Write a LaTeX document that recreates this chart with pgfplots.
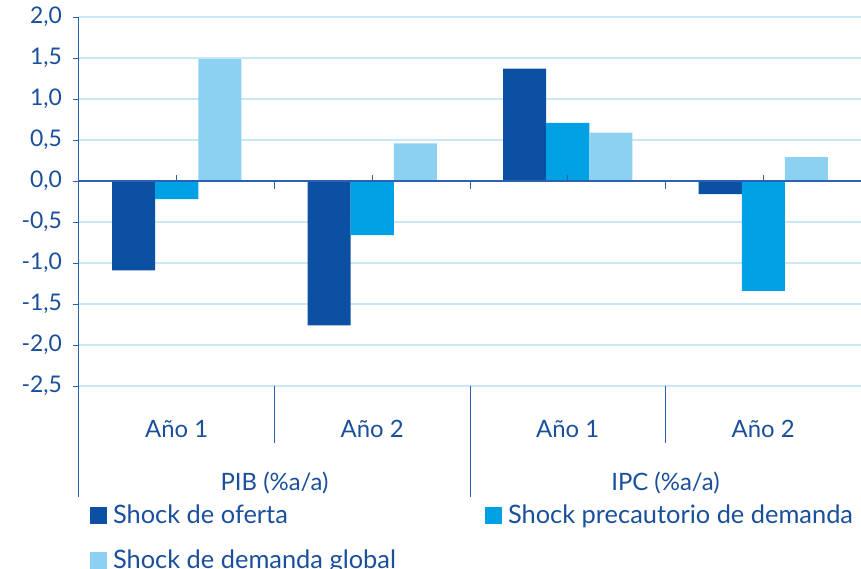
\documentclass[border=0pt]{standalone}
\usepackage{pgfplots}
\pgfplotsset{compat=1.18}
\usepackage{fontspec}
\setmainfont{Lato}

\definecolor{txtblue}{HTML}{1A4F9C}
\definecolor{axblue}{HTML}{2A62B0}
\definecolor{gridblue}{HTML}{CBE7F5}
\definecolor{cOferta}{HTML}{0B50A3}
\definecolor{cPrec}{HTML}{00A0E4}
\definecolor{cGlob}{HTML}{8CD1F2}

\begin{document}
\begin{tikzpicture}
\useasboundingbox (-79bp,-183bp) rectangle (782bp,386bp);
\begin{axis}[
  at={(0,0)}, anchor=south west,
  scale only axis, width=782bp, height=369bp,
  xmin=-0.5, xmax=3.5, ymin=-2.5, ymax=2.0,
  clip=false,
  ybar, bar width=0.22,
  axis line style={draw=none},
  ytick={-2.5,-2,...,2.0},
  ymajorgrids, grid style={gridblue, line width=1.2bp},
  ytick pos=left, tick align=outside,
  major tick length=6bp,
  tick style={axblue, line width=0.9bp},
  xtick={0,1,2,3},
  xticklabels={Año 1,Año 2,Año 1,Año 2},
  xtick pos=bottom,
  xtick style={draw=none},
  xticklabel style={anchor=base, yshift=-45bp, font=\fontsize{24}{28}\selectfont},
  ticklabel style={text=txtblue},
  yticklabel style={inner sep=0pt, xshift=-11bp, font=\fontsize{23}{27}\selectfont},
  /pgf/number format/.cd, fixed, fixed zerofill, precision=1, use comma,
  assume math mode=true,
  /pgfplots/.cd,
  legend columns=2,
  legend cell align=left,
  legend style={draw=none, fill=none, at={(axis description cs:0.0141,-0.3236)},
    anchor=north west, inner sep=0pt, outer sep=0pt,
    font=\fontsize{25.5}{30}\selectfont, text=txtblue,
    nodes={inner sep=0pt, text height=18bp, text depth=5bp},
    column sep=6bp, row sep=22bp,
    /tikz/column 2/.append style={column sep=89bp}},
  legend image code/.code={\fill[#1] (0bp,-7bp) rectangle (17bp,10bp);},
]
\addplot[fill=cOferta, draw=none, bar shift=-0.22]
  coordinates {(0,-1.09) (1,-1.76) (2,1.37) (3,-0.16)};
\addlegendentry{Shock de oferta}
\addplot[fill=cPrec, draw=none, bar shift=0]
  coordinates {(0,-0.22) (1,-0.66) (2,0.71) (3,-1.34)};
\addlegendentry{Shock precautorio de demanda}
\addplot[fill=cGlob, draw=none, bar shift=0.22]
  coordinates {(0,1.49) (1,0.46) (2,0.59) (3,0.29)};
\addlegendentry{Shock de demanda global}

% zero line with its category ticks
\draw[axblue, line width=1.2bp] (axis cs:-0.5,0) -- (axis cs:3.5,0);
\pgfplotsinvokeforeach{0,1,2,3}{\draw[axblue, line width=0.9bp] (axis cs:#1,0) -- ++(0bp,6bp);}
\pgfplotsinvokeforeach{0.5,1.5,2.5}{\draw[axblue, line width=0.9bp] (axis cs:#1,0) -- ++(0bp,-8bp);}
% vertical axis, extended through the category area
\draw[axblue, line width=1bp] (rel axis cs:0,1) -- ++(0bp,-480bp);
% separators in the category area
\draw[axblue, line width=0.9bp] (axis cs:0.5,-2.5) -- ++(0bp,-57bp);
\draw[axblue, line width=0.9bp] (axis cs:2.5,-2.5) -- ++(0bp,-57bp);
\draw[axblue, line width=0.9bp] (axis cs:1.5,-2.5) -- ++(0bp,-111bp);
% group labels
\path (axis cs:0.5,-2.5) ++(0bp,-104bp) node[anchor=base, text=txtblue,
  font=\fontsize{24}{28}\selectfont, inner sep=0pt] {PIB (\%a/a)};
\path (axis cs:2.5,-2.5) ++(0bp,-104bp) node[anchor=base, text=txtblue,
  font=\fontsize{24}{28}\selectfont, inner sep=0pt] {IPC (\%a/a)};
\end{axis}
\end{tikzpicture}
\end{document}
